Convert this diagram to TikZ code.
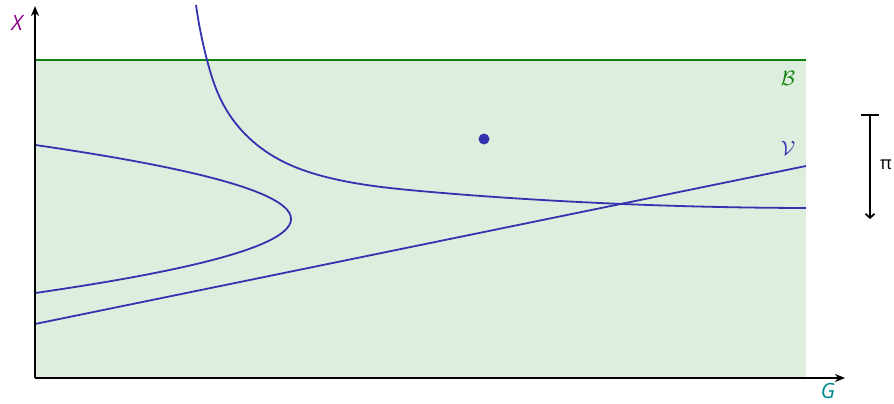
\documentclass[tikz,border=0pt]{standalone}
\usepackage{fontspec}
\setsansfont{Open Sans}
\usetikzlibrary{arrows.meta,hobby}
\definecolor{cblue}{RGB}{51,51,175}
\definecolor{cgreen}{RGB}{17,130,17}
\definecolor{cfill}{RGB}{222,238,222}
\definecolor{cpurple}{RGB}{136,0,136}
\definecolor{cteal}{RGB}{0,136,136}
\tikzset{
  curve/.style={cblue, line width=1.8pt},
  axis/.style={black, line width=1.8pt, -{Stealth[length=10pt,width=8pt,inset=3pt]}},
  lab/.style={font=\sffamily\itshape\fontsize{21}{21}\selectfont, inner sep=0pt}
}
\begin{document}
\begin{tikzpicture}[x=1pt,y=-1pt]
\useasboundingbox (0,0) rectangle (894,404);
\fill[cfill] (35,60) rectangle (806,378);
\draw[cgreen, line width=2pt] (35,60) -- (806,60);
% hyperbola
\draw[curve, use Hobby shortcut] (196,5) .. (207,60) .. (222,102) .. (245,134) .. (280,160) .. (330,178) .. (420,191) .. (560,201) .. (806,208);
% parabola
\draw[curve] plot[smooth, domain=145:293, samples=80, variable=\t] ({291-0.0467*(\t-219)*(\t-219)}, \t);
% line
\coordinate (l1) at (35,324);
\coordinate (l2) at (806,166);
\draw[curve] (l1) -- (l2);
\fill[cblue] (484,139) circle (5.5);
% axes
\coordinate (o) at (35,378);
\coordinate (xe) at (845,378);
\coordinate (ye) at (35,6);
\draw[axis] (o) -- (xe);
\draw[axis] (o) -- (ye);
\node[lab, text=cpurple] (X) at (17,23) {X};
\node[lab, text=cteal] (G) at (828,391) {G};
\node[cgreen, inner sep=0pt, font=\fontsize{21}{21}\selectfont] (B) at (788,78) {$\mathcal{B}$};
\node[cblue, inner sep=0pt, font=\fontsize{21}{21}\selectfont] (V) at (788,148) {$\mathcal{V}$};
% pi bracket
\coordinate (pt) at (870,115);
\coordinate (pb) at (870,219);
\draw[black, line width=1.8pt] (861,115) -- (879,115);
\draw[black, line width=1.8pt, -{Straight Barb[length=4pt,width=9pt]}] (pt) -- (pb);
\node[inner sep=0pt, font=\sffamily\fontsize{18}{18}\selectfont] (pi) at (886,165) {π};
\end{tikzpicture}
\end{document}
